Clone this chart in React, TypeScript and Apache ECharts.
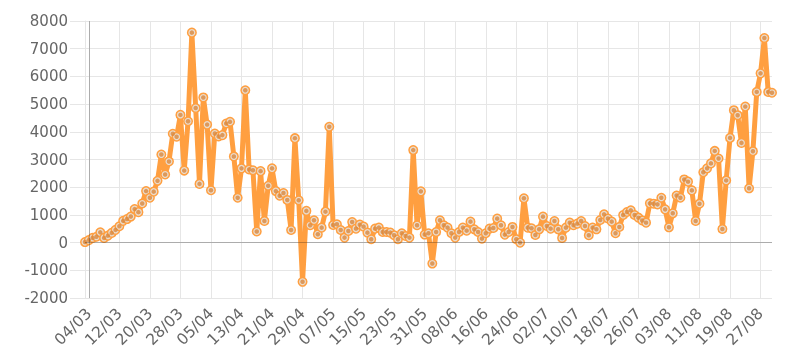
import React, { useEffect, useRef } from "react";
import * as echarts from "echarts";

// Daily values, 03/03 .. 30/08 (181 days)
const startDay = { year: 2020, month: 3, day: 3 };

const values: number[] = [
  20, 90, 170, 210, 370, 170, 250, 350, 460, 590,
  785, 850, 940, 1210, 1100, 1410, 1860, 1620, 1840, 2230,
  3180, 2460, 2930, 3930, 3820, 4610, 2600, 4380, 7580, 4860,
  2120, 5240, 4260, 1890, 3940, 3830, 3880, 4300, 4360, 3110,
  1620, 2680, 5500, 2640, 2610, 400, 2580, 780, 2050, 2680,
  1860, 1690, 1790, 1540, 456, 3770, 1530, -1415, 1145, 625,
  805, 300, 540, 1117, 4180, 636, 660, 456, 180, 420,
  745, 504, 648, 576, 360, 120, 504, 540, 384, 384,
  360, 264, 120, 336, 240, 180, 3340, 625, 1850, 290,
  336, -757, 384, 805, 625, 540, 336, 180, 384, 540,
  432, 757, 480, 384, 144, 336, 504, 528, 865, 625,
  288, 384, 565, 120, 0, 1600, 540, 516, 276, 480,
  937, 600, 504, 780, 480, 168, 540, 720, 625, 685,
  780, 600, 264, 540, 480, 817, 1020, 870, 757, 336,
  565, 997, 1105, 1165, 997, 900, 800, 720, 1417, 1405,
  1380, 1620, 1200, 552, 1057, 1700, 1620, 2280, 2200, 1885,
  780, 1405, 2540, 2680, 2860, 3310, 3035, 490, 2245, 3780,
  4780, 4600, 3600, 4910, 1960, 3300, 5440, 6110, 7385, 5440,
  5410,
];

const tickLabels: string[] = [
  "04/03", "12/03", "20/03", "28/03", "05/04", "13/04", "21/04", "29/04",
  "07/05", "15/05", "23/05", "31/05", "08/06", "16/06", "24/06", "02/07",
  "10/07", "18/07", "26/07", "03/08", "11/08", "19/08", "27/08",
];

const yTicks = { min: -2000, max: 8000, step: 1000 };

function buildCategories(n: number): string[] {
  const out: string[] = [];
  for (let i = 0; i < n; i++) {
    const d = new Date(Date.UTC(startDay.year, startDay.month - 1, startDay.day + i));
    const dd = String(d.getUTCDate()).padStart(2, "0");
    const mm = String(d.getUTCMonth() + 1).padStart(2, "0");
    out.push(`${dd}/${mm}`);
  }
  return out;
}

const categories = buildCategories(values.length);
const tickSet = new Set(tickLabels);

export default function App() {
  const ref = useRef<HTMLDivElement>(null);
  useEffect(() => {
    if (!ref.current) return;
    const chart = echarts.init(ref.current, undefined, { renderer: "svg" });
    const showAt = (_i: number, v: string) => tickSet.has(v);
    const grid = "#e6e6e6";
    const font = "DejaVu Sans";
    chart.setOption({
      animation: false,
      grid: { left: 85, right: 15, top: 21, bottom: 63 },
      xAxis: {
        type: "category",
        data: categories,
        boundaryGap: false,
        axisLine: { show: false },
        axisTick: { show: true, length: 7, interval: showAt, lineStyle: { color: grid } },
        axisLabel: {
          interval: showAt,
          rotate: 45,
          margin: 13,
          color: "#666",
          fontSize: 15.5,
          fontFamily: font,
        },
        splitLine: { show: true, interval: showAt, lineStyle: { color: grid } },
      },
      yAxis: {
        type: "value",
        min: yTicks.min,
        max: yTicks.max,
        interval: yTicks.step,
        axisLine: { show: true, lineStyle: { color: grid } },
        axisTick: { show: true, length: 15, lineStyle: { color: grid } },
        axisLabel: {
          margin: 17,
          color: "#666",
          fontSize: 15,
          fontFamily: font,
          formatter: (v: number) => String(v),
        },
        splitLine: { show: true, lineStyle: { color: grid } },
      },
      series: [
        {
          type: "line",
          data: values,
          showAllSymbol: true,
          symbol: "circle",
          symbolSize: 8.5,
          lineStyle: { color: "#ff9f40", width: 5 },
          itemStyle: { color: "#eadccd", borderColor: "#ff9f40", borderWidth: 1.5 },
          z: 2,
          markLine: {
            silent: true,
            symbol: "none",
            label: { show: false },
            lineStyle: { color: "rgba(0,0,0,0.25)", type: "solid", width: 1 },
            data: [{ yAxis: 0 }, { xAxis: "04/03" }],
          },
        },
        {
          type: "scatter",
          data: values,
          symbol: "circle",
          symbolSize: 4.5,
          itemStyle: { color: "#d9883e" },
          z: 3,
        },
      ],
    });
    return () => chart.dispose();
  }, []);
  return (
    <div
      ref={ref}
      style={{ position: "fixed", left: 0, top: 0, width: 787, height: 361 }}
    />
  );
}
